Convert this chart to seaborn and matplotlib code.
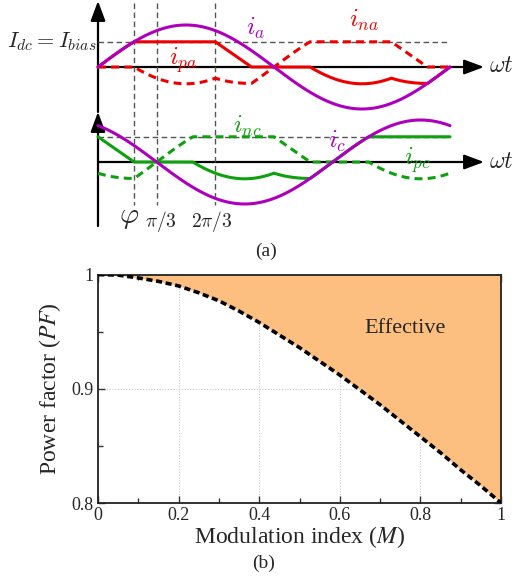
import numpy as np
import pandas as pd
import matplotlib
matplotlib.use("Agg")
import matplotlib.pyplot as plt
import seaborn as sns

# ---------------- (b) power-factor boundary ----------------
modulation_index = [0.0, 0.05, 0.1, 0.15, 0.2, 0.25, 0.3, 0.35, 0.4, 0.45, 0.5,
                    0.55, 0.6, 0.65, 0.7, 0.75, 0.8, 0.85, 0.9, 0.95, 1.0]
power_factor = [1.0, 0.9995, 0.997, 0.994, 0.990, 0.984, 0.977, 0.968, 0.958, 0.947, 0.936,
                0.924, 0.912, 0.899, 0.886, 0.872, 0.858, 0.844, 0.829, 0.815, 0.800]
x_ticks = [0, 0.2, 0.4, 0.6, 0.8, 1]
x_tick_labels = ["0", "0.2", "0.4", "0.6", "0.8", "1"]
y_ticks = [0.8, 0.9, 1.0]
y_tick_labels = ["0.8", "0.9", "1"]

# ---------------- (a) arm-current waveforms ----------------
# currents normalised to the ac peak, angles in rad
i_bias = 0.6
phi = np.arcsin(i_bias)
angle_marks = [phi, np.pi / 3, 2 * np.pi / 3]
angle_labels = [r"$\varphi$", r"$\pi/3$", r"$2\pi/3$"]
phase_c_shift = 2 * np.pi / 3

PURPLE = "#AC00BC"
RED = "#EE0000"
GREEN = "#0EA00E"


def upper_arm(theta, i_ac):
    """Upper-arm current over one period for a phase current i_ac."""
    t = np.mod(theta, 2 * np.pi)
    out = np.empty_like(t)
    a, b = 2 * np.pi / 3, 5 * np.pi / 3
    m = t < phi
    out[m] = i_ac[m]
    m = (t >= phi) & (t < a)
    out[m] = i_bias
    m = (t >= a) & (t < a + phi)
    out[m] = i_bias * (1 - (t[m] - a) / phi)
    m = (t >= a + phi) & (t < np.pi + phi)
    out[m] = 0.0
    m = (t >= np.pi + phi) & (t < b)
    out[m] = i_ac[m] + i_bias
    m = (t >= b) & (t < b + phi)
    out[m] = i_ac[m] + i_bias * (1 - (t[m] - b) / phi)
    m = t >= b + phi
    out[m] = i_ac[m]
    return out


theta = np.linspace(0, 2 * np.pi, 1441)
i_a = np.sin(theta)
i_pa = upper_arm(theta, i_a)
i_na = i_pa - i_a
i_c = np.sin(theta + phase_c_shift)
i_pc = upper_arm(theta + phase_c_shift, i_c)
i_nc = i_pc - i_c

sns.set_theme(style="ticks")
plt.rcParams["font.family"] = ["Liberation Serif", "DejaVu Serif"]
plt.rcParams["mathtext.fontset"] = "stix"

fig = plt.figure(figsize=(5.14, 5.82), dpi=100)

# ---- schematic panel ----
W, H = 514.0, 582.0
x0_px, period_px = 98.0, 352.0
base_a_px, base_c_px, amp_px = 67.0, 162.0, 42.0
top_h_px = 240.0
kx = 2 * np.pi / period_px
ax_a = fig.add_axes([0, 1 - top_h_px / H, 1, top_h_px / H])
ax_a.set_xlim(-x0_px * kx, (W - x0_px) * kx)
ax_a.set_ylim((base_a_px - top_h_px) / amp_px, base_a_px / amp_px)
ax_a.axis("off")
c0 = (base_a_px - base_c_px) / amp_px


def px_y(p):
    return (base_a_px - p) / amp_px


def px_x(p):
    return (p - x0_px) * kx


arrow_kw = dict(arrowstyle="-|>,head_length=0.75,head_width=0.28", color="black",
                lw=1.6, mutation_scale=16, shrinkA=0, shrinkB=0)
for y_b in (0.0, c0):
    ax_a.annotate("", xy=(px_x(484), y_b), xytext=(0, y_b), arrowprops=arrow_kw, zorder=1)
    ax_a.text(px_x(489), y_b, r"$\omega t$", fontsize=17, va="center", ha="left",
              math_fontfamily="cm")
ax_a.annotate("", xy=(0, px_y(1)), xytext=(0, px_y(112)), arrowprops=arrow_kw, zorder=1)
ax_a.annotate("", xy=(0, px_y(112)), xytext=(0, px_y(226)), arrowprops=arrow_kw, zorder=1)

ref_kw = dict(color="#555555", lw=1.0, linestyle=(0, (4, 2.5)), zorder=1.5)
for y_b in (0.0, c0):
    ax_a.plot([0, 2 * np.pi], [y_b + i_bias, y_b + i_bias], **ref_kw)
for m in angle_marks:
    ax_a.plot([m, m], [px_y(3), px_y(205)], **ref_kw)

wave = pd.DataFrame({"theta": theta, "i_a": i_a, "i_pa": i_pa, "i_na": i_na,
                     "i_c": i_c + c0, "i_pc": i_pc + c0, "i_nc": i_nc + c0})
dash = (0, (2.6, 1.7))
sns.lineplot(data=wave, x="theta", y="i_na", ax=ax_a, color=RED, lw=2.2, linestyle=dash,
             estimator=None, sort=False, zorder=2)
sns.lineplot(data=wave, x="theta", y="i_pa", ax=ax_a, color=RED, lw=2.2,
             estimator=None, sort=False, zorder=2.1)
sns.lineplot(data=wave, x="theta", y="i_nc", ax=ax_a, color=GREEN, lw=2.2, linestyle=dash,
             estimator=None, sort=False, zorder=2)
sns.lineplot(data=wave, x="theta", y="i_pc", ax=ax_a, color=GREEN, lw=2.2,
             estimator=None, sort=False, zorder=2.1)
sns.lineplot(data=wave, x="theta", y="i_a", ax=ax_a, color=PURPLE, lw=2.2,
             estimator=None, sort=False, zorder=2.5)
sns.lineplot(data=wave, x="theta", y="i_c", ax=ax_a, color=PURPLE, lw=2.2,
             estimator=None, sort=False, zorder=2.5)
ax_a.set_xlabel("")
ax_a.set_ylabel("")

lab_kw = dict(fontsize=18, ha="center", va="center", math_fontfamily="cm")
ax_a.text(px_x(96), i_bias, r"$I_{dc}=I_{bias}$", fontsize=16, ha="right", va="center",
          math_fontfamily="cm")
ax_a.text(px_x(256), px_y(28), r"$i_a$", color=PURPLE, **lab_kw)
ax_a.text(px_x(364), px_y(20), r"$i_{na}$", color=RED, **lab_kw)
ax_a.text(px_x(183), px_y(60), r"$i_{pa}$", color=RED, **lab_kw)
ax_a.text(px_x(247), px_y(126), r"$i_{nc}$", color=GREEN, **lab_kw)
ax_a.text(px_x(337), px_y(141), r"$i_c$", color=PURPLE, **lab_kw)
ax_a.text(px_x(417), px_y(160), r"$i_{pc}$", color=GREEN, **lab_kw)

ax_a.text(px_x(129), px_y(218), angle_labels[0], fontsize=21, ha="center", va="center",
          math_fontfamily="cm")
ax_a.text(px_x(161), px_y(221), angle_labels[1], fontsize=14, ha="center", va="center",
          math_fontfamily="cm")
ax_a.text(px_x(212), px_y(221), angle_labels[2], fontsize=14, ha="center", va="center",
          math_fontfamily="cm")

fig.text(266 / W, 1 - 251 / H, "(a)", fontsize=14, ha="center", va="center")

# ---- power factor panel ----
left, right, top, bottom = 98.0, 501.0, 274.5, 503.0
ax_b = fig.add_axes([left / W, 1 - bottom / H, (right - left) / W, (bottom - top) / H])
ax_b.fill_between(modulation_index, power_factor, 1.0, color="#FDBF80", lw=0, zorder=1)
sns.lineplot(x=modulation_index, y=power_factor, ax=ax_b, color="black", lw=2.6,
             linestyle=(0, (1.7, 1.0)), zorder=3)
ax_b.set_xlim(0, 1)
ax_b.set_ylim(0.8, 1.0)
ax_b.set_xticks(x_ticks)
ax_b.set_xticklabels(x_tick_labels)
ax_b.set_yticks(y_ticks)
ax_b.set_yticklabels(y_tick_labels)
ax_b.set_xticks(np.arange(0.1, 1.0, 0.2), minor=True)
ax_b.set_yticks([0.85, 0.95], minor=True)
ax_b.tick_params(which="both", direction="in", top=True, right=True, color="#333333",
                 labelsize=13, pad=3)
ax_b.tick_params(which="major", length=5, width=1.0)
ax_b.tick_params(which="minor", length=3.5, width=1.0)
ax_b.grid(True, which="major", color="#C8C8C8", lw=0.8, linestyle=(0, (1, 1.5)), zorder=1.5)
for s in ax_b.spines.values():
    s.set_color("#222222")
    s.set_linewidth(1.3)
ax_b.set_xlabel(r"Modulation index ($M$)", fontsize=17, labelpad=0)
ax_b.set_ylabel(r"Power factor ($PF$)", fontsize=17, labelpad=6)
ax_b.text(0.762, 0.953, "Effective", fontsize=16, ha="center", va="center", zorder=4)

fig.text(264 / W, 1 - 563 / H, "(b)", fontsize=14, ha="center", va="center")

fig.savefig("out.png", dpi=100)
